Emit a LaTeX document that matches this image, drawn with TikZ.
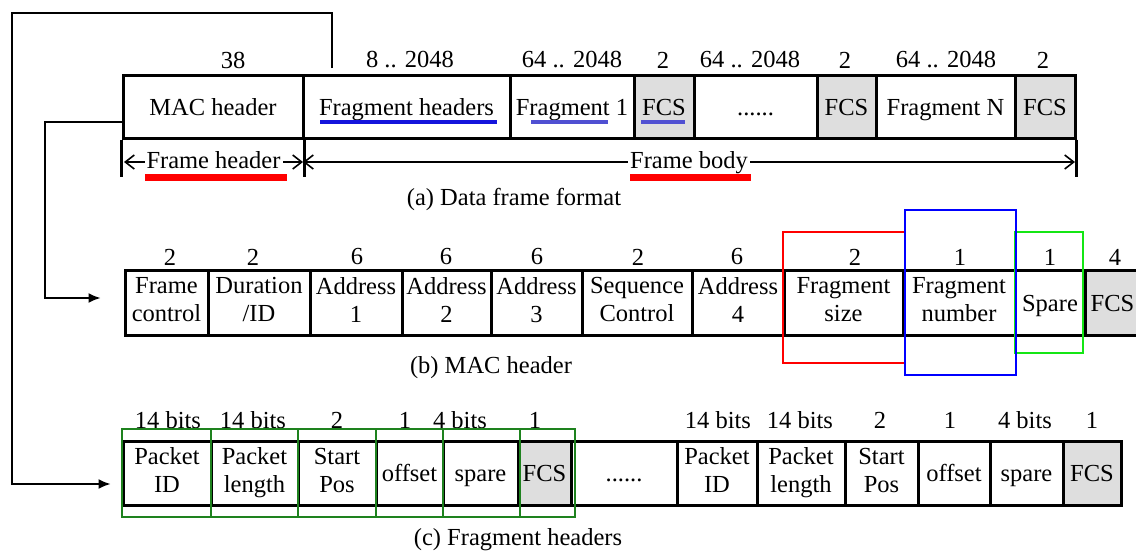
\documentclass[tikz,border=0pt]{standalone}
\usepackage{fontspec}
\setmainfont{Liberation Serif}
\usetikzlibrary{arrows.meta}

\definecolor{fcsgray}{RGB}{222,222,222}
\definecolor{ulblue}{RGB}{20,20,220}
\definecolor{ulblue2}{RGB}{80,80,210}
\definecolor{hlgreen}{RGB}{20,230,20}
\definecolor{boxgreen}{RGB}{30,130,30}
\newcommand{\sixdots}{......}
\newcommand{\topstrut}{\rule{0pt}{23pt}}
\newcommand{\botstrut}{\rule[-6pt]{0pt}{6pt}}

\begin{document}
\begin{tikzpicture}[x=1pt, y=-1pt,
    every node/.style={font=\fontsize{24.5}{28}\selectfont},
    cell/.style={draw, line width=3pt, inner sep=0pt, align=center,
        execute at begin node=\topstrut, execute at end node=\botstrut},
    num/.style={inner sep=0pt},
    link/.style={line width=1.6pt, -{Latex[length=12pt,width=10pt]}},
    span/.style={line width=1.6pt, {Straight Barb[length=9pt,width=14pt]}-{Straight Barb[length=9pt,width=14pt]}},
    tick/.style={line width=3pt}]

    \useasboundingbox (0,0) rectangle (1136,550);

    % (a) data frame
    \foreach \n/\l/\r/\f/\t in {mac/123/303/white/MAC header, fraghdr/303/510/white/Fragment headers,
        frag1/510/634/white/Fragment 1, fcsa/634/694/fcsgray/FCS, dotsa/694/817/white/\sixdots,
        fcsb/817/876/fcsgray/FCS, fragn/876/1015/white/Fragment N, fcsc/1015/1075/fcsgray/FCS}
        \node[cell, fill=\f, minimum width={\r-\l}, minimum height=63] (\n) at ({(\l+\r)/2},106.5) {\t};
    \foreach \x/\s [count=\i] in {233/38, 410/8 .. 2048, 572/64 .. 2048, 663/2, 750/64 .. 2048, 845/2, 946/64 .. 2048, 1043/2}
        \node[num] (sa\i) at (\x,60) {\s};

    \draw[ulblue, line width=4pt] (320,122) -- (497,122);
    \draw[ulblue2, line width=3.5pt] (531,122) -- (608,122);
    \draw[ulblue2, line width=3.5pt] (641,122) -- (685,122);

    \draw[tick] (mac.south west) -- ++(0,37);
    \draw[tick] (mac.south east) -- ++(0,37);
    \draw[tick] (fcsc.south east) -- ++(0,37);
    \coordinate (fhl) at (124,162);
    \coordinate (fhr) at (303,162);
    \coordinate (fbr) at (1075,162);
    \draw[span] (fhl) -- node[fill=white, inner sep=2pt, text height=17pt, text depth=5pt] (fhead) {Frame header} (fhr);
    \draw[span] (fhr) -- node[fill=white, inner sep=2pt, text height=17pt, text depth=5pt] (fbody) {Frame body} (fbr);
    \draw[red, line width=7pt] (145,177) -- (287,177);
    \draw[red, line width=7pt] (630,177) -- (751,177);
    \node (capa) at (514,199) {(a) Data frame format};

    % (b) MAC header
    \foreach \n/\l/\r/\f/\t in {fc/125/208/white/Frame\\control, dur/208/310/white/Duration\\\slash ID,
        adr1/310/402/white/Address\\1, adr2/402/491/white/Address\\2, adr3/491/582/white/Address\\3,
        seq/582/692/white/Sequence\\Control, adr4/692/784/white/Address\\4, fsize/784/903/white/Fragment\\size,
        fnum/903/1015/white/Fragment\\number, spare/1015/1085/white/Spare, fcsm/1085/1140/fcsgray/FCS}
        \node[cell, fill=\f, minimum width={\r-\l}, minimum height=65] (\n) at ({(\l+\r)/2},302.5) {\t};
    \foreach \x/\s [count=\i] in {170/2, 253/2, 357/6, 446/6, 537/6, 638/2, 737/6, 855/2, 960/1, 1050/1, 1115/4}
        \node[num] (sb\i) at (\x,257) {\s};

    \draw[red, line width=2pt] (783,232) rectangle (905,363);
    \draw[hlgreen, line width=2pt] (1015,232) rectangle (1083,353);
    \draw[blue, line width=2.5pt] (905,210) rectangle (1016,375);
    \node (capb) at (491,368) {(b) MAC header};

    % (c) fragment headers
    \foreach \n/\l/\r/\f/\t in {pida/123/211/white/Packet\\ID, plena/211/298/white/Packet\\length,
        sposa/298/376/white/Start\\Pos, offa/376/443/white/offset, spra/443/518/white/spare,
        fcsd/518/571/fcsgray/FCS, dotsc/571/677/white/\sixdots, pidb/677/757/white/Packet\\ID,
        plenb/757/845/white/Packet\\length, sposb/845/918/white/Start\\Pos, offb/918/990/white/offset,
        sprb/990/1063/white/spare, fcse/1063/1121/fcsgray/FCS}
        \node[cell, fill=\f, minimum width={\r-\l}, minimum height=64] (\n) at ({(\l+\r)/2},473) {\t};
    \foreach \x/\s [count=\i] in {168/14 bits, 253/14 bits, 337/2, 405/1, 460/4 bits, 535/1,
        718/14 bits, 800/14 bits, 880/2, 950/1, 1025/4 bits, 1092/1}
        \node[num] (sc\i) at (\x,420) {\s};

    \foreach \l/\r in {122/211, 211/298, 298/376, 376/443, 443/520, 520/575}
        \draw[boxgreen, line width=2pt] (\l,429) rectangle (\r,517);
    \node (capc) at (518,540) {(c) Fragment headers};

    % links between the parts
    \coordinate (fhtop) at (332,68);
    \draw[link, shorten >=11pt] (fhtop) |- (12,13) |- ([yshift=-11pt]pida.west);
    \draw[link, shorten >=23pt] ([yshift=-15.5pt]mac.west) -| (45,298) -- ([yshift=4.5pt]fc.west);
\end{tikzpicture}
\end{document}
